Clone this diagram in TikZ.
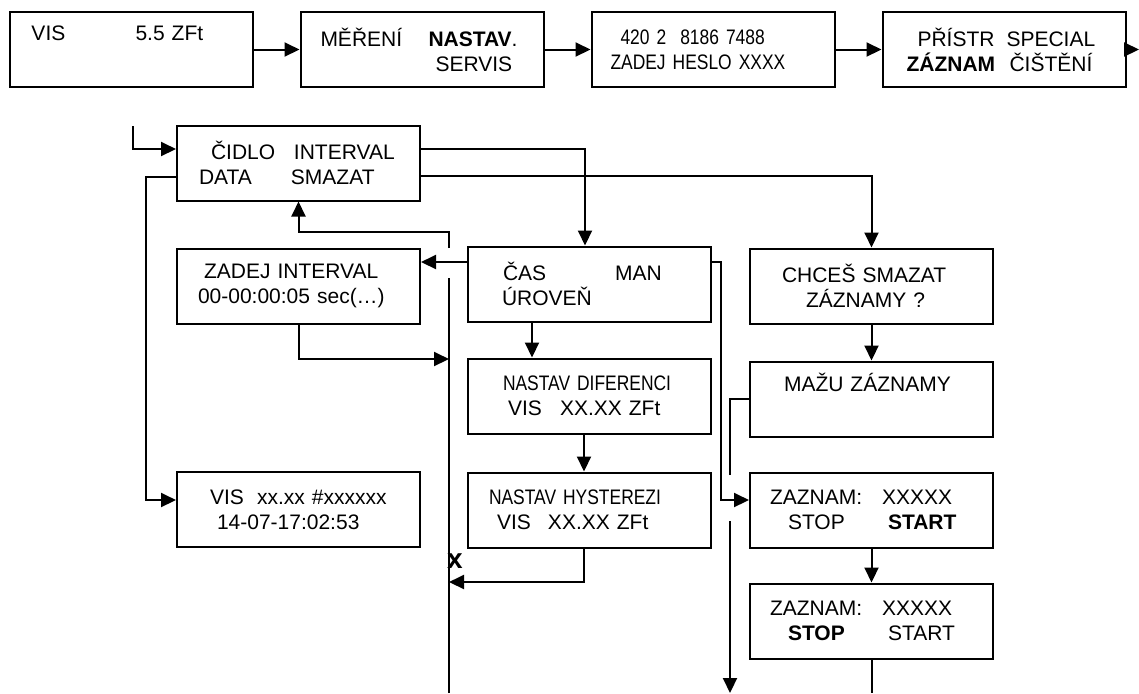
\documentclass[tikz,border=0pt]{standalone}
\usepackage{fontspec}
\setmainfont{Liberation Sans}
\newfontfamily\narrowfont[FakeStretch=0.83]{Liberation Sans}
\usetikzlibrary{arrows.meta,positioning,calc}
\newlength\pxu
\setlength\pxu{0.5pt}
\newcommand\lcdat[2]{\hspace*{#1\pxu}#2}
\newcommand\lcdrow[4]{\hspace*{#1\pxu}\makebox[\dimexpr#3\pxu-#1\pxu\relax][l]{#2}#4}
\newcommand\narrowtext[1]{{\narrowfont #1}}
\tikzset{
  lcdbox/.style={draw, line width=1pt, minimum width=121.5pt, minimum height=37.5pt,
    text width=121.5pt, inner xsep=0pt, inner ysep=0pt, align=left,
    font=\fontsize{10.5pt}{12.5pt}\selectfont},
  flowline/.style={line width=1pt},
  flowarrow/.style={flowline, -{Triangle[length=7.5pt,width=7pt]}},
  crossmark/.style={font=\bfseries\fontsize{14pt}{16pt}\selectfont, inner sep=0pt}
}
\begin{document}
\begin{tikzpicture}[x=0.5pt, y=-0.5pt, node distance=23pt]
\useasboundingbox (0,0) rectangle (1139,693);
% top menu row
\node[lcdbox] (vis) at (131,49.5) {\lcdrow{22}{VIS}{126}{5.5 ZFt}\\\strut};
\node[lcdbox, right=of vis] (menu) {\lcdrow{20}{MĚŘENÍ}{128}{\textbf{NASTAV}.}\\\lcdat{135}{SERVIS}};
\node[lcdbox, right=of menu] (heslo) {\lcdat{29}{\narrowtext{420 2~~8186 7488}}\\\lcdat{19}{\narrowtext{ZADEJ HESLO XXXX}}};
\node[lcdbox, right=of heslo] (pristr) {\lcdrow{35}{PŘÍSTR}{124}{SPECIAL}\\\lcdrow{24}{\textbf{ZÁZNAM}}{127}{ČIŠTĚNÍ}};
\coordinate (exit) at (1139,49.5);
\draw[flowarrow] (vis) -- (menu);
\draw[flowarrow] (menu) -- (heslo);
\draw[flowarrow] (heslo) -- (pristr);
\draw[flowarrow] (pristr) -- (exit);
% record menu
\node[lcdbox] (cidlo) at (298.5,163) {\lcdrow{34}{ČIDLO}{117}{INTERVAL}\\\lcdrow{22}{DATA}{114}{SMAZAT}};
\node[lcdbox] (zadej) at (298.5,286) {\lcdat{27}{ZADEJ INTERVAL}\\\lcdat{21}{00-00:00:05 sec(…)}};
\node[lcdbox] (visdata) at (298.5,509.5) {\lcdrow{33}{VIS}{80}{xx.xx \#xxxxxx}\\\lcdat{40}{14-07-17:02:53}};
\node[lcdbox] (cas) at (589.5,284) {\lcdrow{35}{ČAS}{147}{MAN}\\\lcdat{34}{ÚROVEŇ}};
\node[lcdbox] (dif) at (589.5,396) {\lcdat{35}{\narrowtext{NASTAV DIFERENCI}}\\\lcdrow{40}{VIS}{92}{XX.XX ZFt}};
\node[lcdbox] (hys) at (589.5,510) {\lcdat{21}{\narrowtext{NASTAV HYSTEREZI}}\\\lcdrow{29}{VIS}{80}{XX.XX ZFt}};
\node[lcdbox] (chces) at (871.5,286) {\lcdat{32}{CHCEŠ SMAZAT}\\\lcdat{56}{ZÁZNAMY ?}};
\node[lcdbox] (mazu) at (871.5,399) {\lcdat{34}{MAŽU ZÁZNAMY}\\\strut};
\node[lcdbox] (zaz1) at (871.5,510) {\lcdrow{20}{ZAZNAM:}{132}{XXXXX}\\\lcdrow{38}{STOP}{138}{\textbf{START}}};
\node[lcdbox] (zaz2) at (871.5,621) {\lcdrow{20}{ZAZNAM:}{132}{XXXXX}\\\lcdrow{38}{\textbf{STOP}}{138}{START}};
% entry and branches
\coordinate (entry) at (133,126);
\draw[flowarrow] (entry) |- ($(cidlo.west)+(0,-14)$);
\draw[flowarrow] ($(cidlo.east)+(0,-14)$) -| ($(cas.north)+(-4.5,0)$);
\draw[flowarrow] ($(cidlo.east)+(0,13)$) -| (chces.north);
\draw[flowarrow] ($(cidlo.west)+(0,14)$) -- ++(-30,0) |- ($(visdata.west)+(0,-9.5)$);
% return line
\coordinate (loopend) at (449,693);
\coordinate (gaplow) at (449,278);
\coordinate (gaphigh) at (449,248);
\coordinate (joinup) at (449,359);
\coordinate (joindown) at (449,582);
\draw[flowline] (loopend) -- (gaplow);
\draw[flowarrow] (gaphigh) -- ++(0,-16) -| (cidlo.south);
\draw[flowarrow] ($(cas.west)+(0,-22)$) coordinate (casleft) -- (casleft -| zadej.east);
\draw[flowarrow] (zadej.south) |- (joinup);
\draw[flowarrow] ($(hys.south)+(-5.5,0)$) |- (joindown);
\node[crossmark] (xmark) at (455,561) {x};
\draw[flowarrow] ($(cas.south)+(-57.5,0)$) -- ($(dif.north)+(-57.5,0)$);
\draw[flowarrow] ($(dif.south)+(-5.5,0)$) -- ($(hys.north)+(-5.5,0)$);
% record start / stop
\draw[flowarrow] ($(cas.east)+(0,-22)$) -- ++(9,0) |- ($(zaz1.west)+(0,-10)$);
\coordinate (gapa) at (730,475);
\coordinate (gapb) at (730,521);
\coordinate (mazuend) at (730,693);
\coordinate (zazend) at (871.5,693);
\draw[flowline] (mazu.west) -| (gapa);
\draw[flowarrow] (gapb) -- (mazuend);
\draw[flowarrow] (chces) -- (mazu);
\draw[flowarrow] (zaz1) -- (zaz2);
\draw[flowline] (zaz2.south) -- (zazend);
\end{tikzpicture}
\end{document}
